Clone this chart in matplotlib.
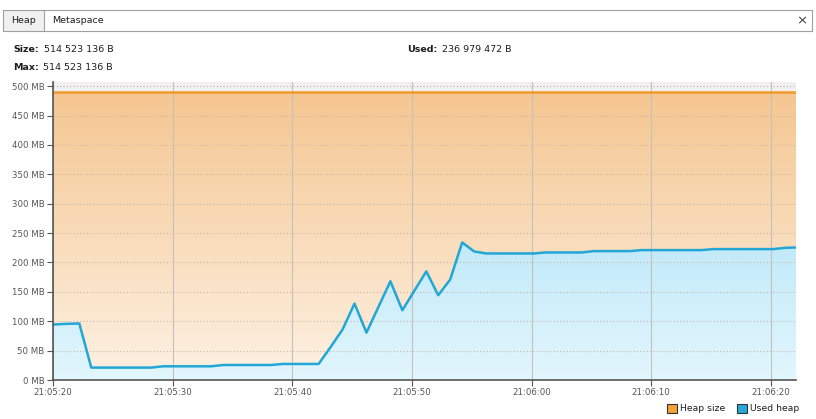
import matplotlib.pyplot as plt
import numpy as np
from matplotlib.patches import Polygon, Rectangle
from matplotlib.colors import LinearSegmentedColormap
from matplotlib.ticker import FuncFormatter, MultipleLocator

# samples, one per second, first sample 0.8 s before 21:05:20
start_offset = -0.8
sample_period = 1.0

used_mb = [94.2, 94.6, 95.6, 96.1, 21.1, 21.1, 21.1, 21.1, 21.1, 21.1,
           23.3, 23.3, 23.3, 23.3, 23.3, 25.5, 25.5, 25.5, 25.5, 25.5,
           27.3, 27.3, 27.3, 27.3, 56.0, 85.9, 130.0, 80.7, 124.3, 168.0,
           118.7, 151.7, 184.7, 144.3, 171.0, 234.0, 218.7, 215.3, 215.3, 215.3,
           215.3, 215.3, 217.0, 217.0, 217.0, 217.0, 219.3, 219.3, 219.3, 219.3,
           221.0, 221.0, 221.0, 221.0, 221.0, 221.0, 222.7, 222.7, 222.7, 222.7,
           222.7, 222.7, 224.9, 225.5]
heap_size_mb = 490.7

size_text = '514 523 136 B'
max_text = '514 523 136 B'
used_text = '236 979 472 B'

t = start_offset + sample_period * np.arange(len(used_mb))
used = np.array(used_mb)
heap = np.full(len(t), heap_size_mb)

W, H = 816, 419
fig = plt.figure(figsize=(W / 100, H / 100), dpi=100)
fig.patch.set_facecolor('white')

txt = '#1e1e1e'
fs = 6.8

# tab header
hdr = fig.add_axes([0, 0, 1, 1])
hdr.set_xlim(0, W)
hdr.set_ylim(H, 0)
hdr.axis('off')
hdr.add_patch(Rectangle((3, 10), 41, 21, facecolor='#f0f0f0', edgecolor='#a0a0a0', lw=0.8))
hdr.plot([44, 812], [10, 10], color='#a0a0a0', lw=0.8)
hdr.plot([44, 812], [31, 31], color='#a0a0a0', lw=0.8)
hdr.plot([812, 812], [10, 31], color='#a0a0a0', lw=0.8)
hdr.text(23.5, 20.5, 'Heap', ha='center', va='center', fontsize=fs, color=txt)
hdr.text(52, 20.5, 'Metaspace', ha='left', va='center', fontsize=fs, color=txt)
hdr.text(802, 20.5, '×', ha='center', va='center', fontsize=9.5, color='#404040')

hdr.text(13, 49, 'Size:', ha='left', va='center', fontsize=fs, fontweight='bold', color=txt)
hdr.text(44, 49, size_text, ha='left', va='center', fontsize=fs, color=txt)
hdr.text(13, 67, 'Max:', ha='left', va='center', fontsize=fs, fontweight='bold', color=txt)
hdr.text(43, 67, max_text, ha='left', va='center', fontsize=fs, color=txt)
hdr.text(407, 49, 'Used:', ha='left', va='center', fontsize=fs, fontweight='bold', color=txt)
hdr.text(442, 49, used_text, ha='left', va='center', fontsize=fs, color=txt)

# legend
hdr.add_patch(Rectangle((667, 403.5), 10, 9.5, facecolor='#f3a437', edgecolor='#333333', lw=0.8))
hdr.text(679.5, 408.5, 'Heap size', ha='left', va='center', fontsize=6.7, color=txt)
hdr.add_patch(Rectangle((737, 403.5), 10, 9.5, facecolor='#2aa9d9', edgecolor='#333333', lw=0.8))
hdr.text(749.5, 408.5, 'Used heap', ha='left', va='center', fontsize=6.7, color=txt)

# chart
ax = fig.add_axes([53 / W, (H - 380) / H, (796 - 53) / W, (380 - 82) / H])
ax.set_facecolor('#f0f0f0')
xmin, xmax = 0, 62.1
ymin, ymax = 0, 507

heap_cmap = LinearSegmentedColormap.from_list('h', ['#fdf1e3', '#f5c690'])
used_cmap = LinearSegmentedColormap.from_list('u', ['#e2f6fd', '#b8e6f8'])
grad = np.linspace(0, 1, 256).reshape(-1, 1)

heap_poly = Polygon(np.column_stack([np.r_[t, t[-1], t[0]], np.r_[heap, 0, 0]]),
                    closed=True, facecolor='none', edgecolor='none')
ax.add_patch(heap_poly)
im = ax.imshow(grad, cmap=heap_cmap, origin='lower', aspect='auto',
               extent=[t[0], t[-1], 0, heap_size_mb], zorder=1)
im.set_clip_path(heap_poly)

used_poly = Polygon(np.column_stack([np.r_[t, t[-1], t[0]], np.r_[used, 0, 0]]),
                    closed=True, facecolor='none', edgecolor='none')
ax.add_patch(used_poly)
im2 = ax.imshow(grad, cmap=used_cmap, origin='lower', aspect='auto',
                extent=[t[0], t[-1], 0, 300], zorder=2)
im2.set_clip_path(used_poly)

ax.plot(t, heap, color='#f09a2c', lw=1.8, zorder=4)
ax.plot(t, used, color='#22a6d6', lw=1.8, zorder=4)

ax.set_xlim(xmin, xmax)
ax.set_ylim(ymin, ymax)

ax.yaxis.set_major_locator(MultipleLocator(50))
ax.xaxis.set_major_locator(MultipleLocator(10))
ax.yaxis.set_major_formatter(FuncFormatter(lambda v, p: f'{int(v)} MB'))
ax.xaxis.set_major_formatter(FuncFormatter(
    lambda v, p: f'21:{5 + int(20 + v) // 60:02d}:{int(20 + v) % 60:02d}'))

ax.grid(True, axis='y', color='#c8b8a8', linestyle=(0, (1, 2)), lw=0.8, zorder=3)
ax.grid(True, axis='x', color='#c4c0bc', linestyle='-', lw=0.8, zorder=3)
ax.set_axisbelow(False)

for s in ['top', 'right']:
    ax.spines[s].set_visible(False)
for s in ['left', 'bottom']:
    ax.spines[s].set_color('#555555')
    ax.spines[s].set_linewidth(1.2)
    ax.spines[s].set_zorder(5)

ax.tick_params(axis='both', direction='out', length=4, width=0.8, color='#555555',
               labelcolor='#555555', pad=2)
ax.tick_params(axis='y', labelsize=6.2)
ax.tick_params(axis='x', labelsize=6.2, pad=1.5)

plt.savefig('out.png', dpi=100)
plt.close()
